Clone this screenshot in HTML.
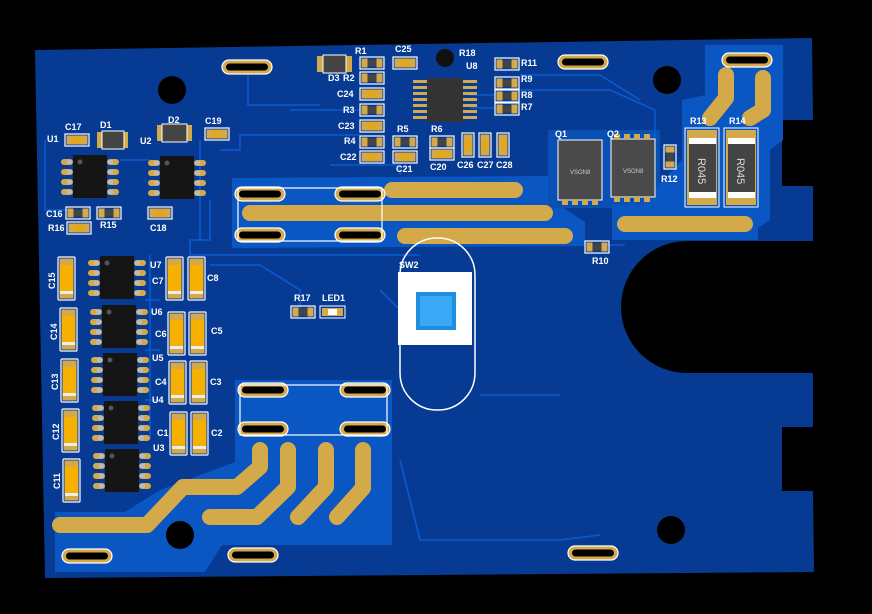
<!DOCTYPE html>
<html><head><meta charset="utf-8"><style>
html,body{margin:0;padding:0;background:#000;}
svg{display:block}
text{font-family:"Liberation Sans",sans-serif;font-weight:bold;font-size:9px;fill:#fff}
</style></head><body>
<svg width="872" height="614" viewBox="0 0 872 614" xmlns="http://www.w3.org/2000/svg">
<defs>
<g id="r"><rect x="0" y="0" width="24" height="12" fill="none" stroke="#fff" stroke-width="1.2"/><rect x="1.5" y="1.5" width="6" height="9" fill="#d4a94a"/><rect x="16.5" y="1.5" width="6" height="9" fill="#d4a94a"/><rect x="7.5" y="2.5" width="9" height="7" fill="#444"/></g>
<g id="c"><rect x="0" y="0" width="24" height="12" fill="none" stroke="#fff" stroke-width="1.2"/><rect x="1.5" y="1.5" width="21" height="9" fill="#d4a94a"/><rect x="7" y="2" width="10" height="8" fill="#e0a822"/></g>
<g id="bc"><rect x="0" y="0" width="17" height="43" rx="1" fill="none" stroke="#fff" stroke-width="1.2"/><rect x="1.5" y="1.5" width="14" height="40" fill="#d4a94a"/><rect x="2" y="8" width="13" height="27" fill="#f5b000"/><rect x="2" y="34" width="13" height="3" fill="#eee"/></g>
<g id="so"><rect x="0" y="0" width="34" height="43" fill="#151515"/><circle cx="7" cy="7" r="2.5" fill="#555"/>
<g fill="#d4a94a"><rect x="-12" y="4" width="12" height="6" rx="3"/><rect x="-12" y="14" width="12" height="6" rx="3"/><rect x="-12" y="24" width="12" height="6" rx="3"/><rect x="-12" y="34" width="12" height="6" rx="3"/><rect x="34" y="4" width="12" height="6" rx="3"/><rect x="34" y="14" width="12" height="6" rx="3"/><rect x="34" y="24" width="12" height="6" rx="3"/><rect x="34" y="34" width="12" height="6" rx="3"/></g>
<g fill="#bbb"><rect x="-6" y="5" width="5" height="4"/><rect x="-6" y="15" width="5" height="4"/><rect x="-6" y="25" width="5" height="4"/><rect x="-6" y="35" width="5" height="4"/><rect x="35" y="5" width="5" height="4"/><rect x="35" y="15" width="5" height="4"/><rect x="35" y="25" width="5" height="4"/><rect x="35" y="35" width="5" height="4"/></g></g>
<g id="slot"><rect x="0" y="0" width="50" height="14" rx="7" fill="#d4a94a" stroke="#fff" stroke-width="1.2"/><rect x="4" y="3.5" width="42" height="7" rx="3.5" fill="#000"/></g>
</defs>
<rect width="872" height="614" fill="#000"/>
<!-- board -->
<path d="M35,50 L812,38 L813,120 L782,120 L782,186 L813,186 L813,241 L687,241 A66,66 0 0 0 687,373 L813,373 L813,427 L782,427 L782,491 L813,491 L814,572 L45,578 Z" fill="#073a92"/>
<!-- pours -->
<path d="M232,178 L548,176 L548,198 L585,222 L585,246 L232,248 Z" fill="#0a56c2"/>
<path d="M548,130 L660,130 L660,208 L548,208 Z" fill="#0a4fb4"/>
<path d="M705,45 L783,45 L783,140 L770,150 L770,220 L758,228 L758,240 L612,240 L612,205 L640,205 L682,160 L682,100 L705,95 Z" fill="#0a56c2"/>
<path d="M55,512 L125,512 L160,490 L235,462 L235,380 L392,380 L392,545 L222,545 L205,572 L55,572 Z" fill="#0a56c2"/>
<!-- thin traces -->
<g stroke="#0a5ad0" stroke-width="1.6" fill="none">
<path d="M248,75 V105 H320"/><path d="M290,110 H360"/><path d="M220,150 H240 V135 H360"/><path d="M210,200 V240 H190 V255 H420"/>
<path d="M330,165 H400 V175"/><path d="M470,95 H495"/><path d="M470,108 H495"/><path d="M520,75 H600 L640,100"/><path d="M520,90 H610 L655,110"/>
<path d="M45,140 V210 H70"/><path d="M120,160 H150"/><path d="M200,140 V240"/><path d="M150,255 V440"/><path d="M210,265 H260 L300,290 V310"/>
<path d="M380,290 L400,310"/><path d="M600,245 H625"/><path d="M145,300 H160"/><path d="M145,350 H160"/><path d="M145,400 H160"/><path d="M480,395 L560,395"/>
<path d="M400,460 L420,540 L560,540 L600,535"/><path d="M655,110 V140"/></g>
<!-- gold traces -->
<g stroke="#d4a94a" stroke-linecap="round" stroke-linejoin="round" fill="none" stroke-width="16">
<path d="M392,190 H515"/><path d="M250,213 H545"/><path d="M405,236 H565"/>
<path d="M60,525 H147 L183,487 H237 L260,467 V450"/><path d="M210,517 H257 L288,487 V450"/><path d="M298,517 L326,487 V450"/><path d="M337,517 L363,488 V450"/>
<path d="M625,224 H745"/><path d="M726,75 V98 L710,118"/><path d="M763,78 V110 L750,118"/>
</g>
<!-- holes -->
<g fill="#000"><circle cx="172" cy="90" r="14"/><circle cx="667" cy="80" r="14"/><circle cx="180" cy="535" r="14"/><circle cx="671" cy="530" r="14"/></g>
<!-- slots -->
<use href="#slot" x="222" y="60"/><use href="#slot" x="558" y="55"/><use href="#slot" x="722" y="53"/><use href="#slot" x="62" y="549"/><use href="#slot" x="228" y="548"/><use href="#slot" x="568" y="546"/>
<!-- switch areas -->
<use href="#slot" x="235" y="187"/><use href="#slot" x="335" y="187"/><use href="#slot" x="235" y="228"/><use href="#slot" x="335" y="228"/>
<rect x="238" y="188" width="144" height="53" fill="none" stroke="#fff" stroke-width="1.2"/>
<use href="#slot" x="238" y="383"/><use href="#slot" x="340" y="383"/><use href="#slot" x="238" y="422"/><use href="#slot" x="340" y="422"/>
<rect x="240" y="385" width="147" height="50" fill="none" stroke="#fff" stroke-width="1.2"/>
<!-- SW2 -->
<rect x="400" y="238" width="75" height="172" rx="37" fill="none" stroke="#fff" stroke-width="1.5"/>
<rect x="398" y="272" width="74" height="73" fill="#fff"/>
<rect x="416" y="292" width="40" height="38" fill="#1e8fe0"/><rect x="420" y="296" width="32" height="30" fill="#3aa8f5"/>
<!-- top cluster -->
<rect x="317" y="56" width="35" height="16" fill="#d4a94a"/><rect x="323" y="55" width="23" height="18" fill="#444" stroke="#fff" stroke-width="1"/>
<use href="#r" x="360" y="57"/><use href="#r" x="360" y="72"/><use href="#c" x="360" y="88"/><use href="#r" x="360" y="104"/><use href="#c" x="360" y="120"/><use href="#r" x="360" y="136"/><use href="#c" x="360" y="151"/>
<use href="#c" x="393" y="57"/><circle cx="445" cy="58" r="9" fill="#111"/>
<rect x="427" y="78" width="36" height="44" fill="#333"/>
<g fill="#d4a94a"><rect x="413" y="80" width="14" height="3"/><rect x="413" y="86" width="14" height="3"/><rect x="413" y="92" width="14" height="3"/><rect x="413" y="98" width="14" height="3"/><rect x="413" y="104" width="14" height="3"/><rect x="413" y="110" width="14" height="3"/><rect x="413" y="116" width="14" height="3"/><rect x="463" y="80" width="14" height="3"/><rect x="463" y="86" width="14" height="3"/><rect x="463" y="92" width="14" height="3"/><rect x="463" y="98" width="14" height="3"/><rect x="463" y="104" width="14" height="3"/><rect x="463" y="110" width="14" height="3"/><rect x="463" y="116" width="14" height="3"/></g>
<use href="#r" x="495" y="58"/><use href="#r" x="495" y="77"/><use href="#r" x="495" y="90"/><use href="#r" x="495" y="103"/>
<use href="#r" x="393" y="136"/><use href="#c" x="393" y="151"/><use href="#r" x="430" y="136"/><use href="#c" x="430" y="148"/>
<use href="#c" transform="translate(474,133) rotate(90)"/><use href="#c" transform="translate(491,133) rotate(90)"/><use href="#c" transform="translate(509,133) rotate(90)"/>
<!-- left top -->
<use href="#c" x="65" y="134"/><rect x="97" y="132" width="31" height="16" fill="#d4a94a"/><rect x="102" y="131" width="22" height="18" fill="#444" stroke="#fff" stroke-width="1"/>
<rect x="157" y="125" width="35" height="16" fill="#d4a94a"/><rect x="162" y="124" width="25" height="18" fill="#444" stroke="#fff" stroke-width="1"/>
<use href="#c" x="205" y="128"/>
<use href="#so" x="73" y="155"/><use href="#so" x="160" y="156"/>
<use href="#r" x="66" y="207"/><use href="#r" x="97" y="207"/><use href="#c" x="67" y="222"/><use href="#c" x="148" y="207"/>
<!-- op-amp column -->
<use href="#bc" x="58" y="257"/><use href="#bc" x="60" y="308"/><use href="#bc" x="61" y="359"/><use href="#bc" x="62" y="409"/><use href="#bc" x="63" y="459"/>
<use href="#so" x="100" y="256"/><use href="#so" x="102" y="305"/><use href="#so" x="103" y="353"/><use href="#so" x="104" y="401"/><use href="#so" x="105" y="449"/>
<use href="#bc" x="166" y="257"/><use href="#bc" x="188" y="257"/><use href="#bc" x="168" y="312"/><use href="#bc" x="189" y="312"/><use href="#bc" x="169" y="361"/><use href="#bc" x="190" y="361"/><use href="#bc" x="170" y="412"/><use href="#bc" x="191" y="412"/>
<use href="#r" x="291" y="306"/><rect x="320" y="306" width="25" height="12" fill="none" stroke="#fff"/><rect x="322" y="308" width="21" height="8" fill="#d4a94a"/><rect x="328" y="309" width="9" height="6" fill="#fff"/>
<!-- right side -->
<rect x="558" y="140" width="44" height="60" fill="#4a4a4a" stroke="#fff" stroke-width="1"/><rect x="611" y="139" width="44" height="58" fill="#4a4a4a" stroke="#fff" stroke-width="1"/>
<g fill="#d4a94a"><rect x="562" y="200" width="6" height="5"/><rect x="572" y="200" width="6" height="5"/><rect x="582" y="200" width="6" height="5"/><rect x="592" y="200" width="6" height="5"/><rect x="614" y="197" width="6" height="5"/><rect x="624" y="197" width="6" height="5"/><rect x="634" y="197" width="6" height="5"/><rect x="644" y="197" width="6" height="5"/><rect x="614" y="134" width="6" height="5"/><rect x="624" y="134" width="6" height="5"/><rect x="634" y="134" width="6" height="5"/><rect x="644" y="134" width="6" height="5"/></g>
<text x="570" y="174" style="font-size:6px;font-weight:normal;fill:#ccc">VSON8</text><text x="623" y="173" style="font-size:6px;font-weight:normal;fill:#ccc">VSON8</text>
<use href="#r" transform="translate(676,145) rotate(90)"/>
<use href="#r" x="585" y="241"/>
<g><rect x="685" y="128" width="34" height="79" fill="none" stroke="#fff"/><rect x="687" y="130" width="30" height="75" fill="#d4a94a"/><rect x="689" y="138" width="27" height="60" fill="#444"/><rect x="689" y="138" width="27" height="6" fill="#fff"/><rect x="689" y="192" width="27" height="6" fill="#fff"/></g>
<g><rect x="724" y="128" width="34" height="79" fill="none" stroke="#fff"/><rect x="726" y="130" width="30" height="75" fill="#d4a94a"/><rect x="728" y="138" width="27" height="60" fill="#444"/><rect x="728" y="138" width="27" height="6" fill="#fff"/><rect x="728" y="192" width="27" height="6" fill="#fff"/></g>
<text transform="translate(698,158) rotate(90)" style="font-size:11px;font-weight:normal;fill:#ddd">R045</text>
<text transform="translate(737,158) rotate(90)" style="font-size:11px;font-weight:normal;fill:#ddd">R045</text>
<!-- labels -->
<text x="355" y="54">R1</text><text x="343" y="81">R2</text><text x="328" y="81">D3</text><text x="337" y="97">C24</text><text x="343" y="113">R3</text><text x="338" y="129">C23</text><text x="344" y="144">R4</text><text x="340" y="160">C22</text>
<text x="395" y="52">C25</text><text x="459" y="56">R18</text><text x="466" y="69">U8</text>
<text x="521" y="66">R11</text><text x="521" y="82">R9</text><text x="521" y="98">R8</text><text x="521" y="110">R7</text>
<text x="397" y="132">R5</text><text x="396" y="172">C21</text><text x="431" y="132">R6</text><text x="430" y="170">C20</text><text x="457" y="168">C26</text><text x="477" y="168">C27</text><text x="496" y="168">C28</text>
<text x="47" y="142">U1</text><text x="65" y="130">C17</text><text x="100" y="128">D1</text><text x="140" y="144">U2</text><text x="168" y="123">D2</text><text x="205" y="124">C19</text>
<text x="46" y="217">C16</text><text x="48" y="231">R16</text><text x="100" y="228">R15</text><text x="150" y="231">C18</text>
<text x="150" y="268">U7</text><text x="152" y="284">C7</text><text x="207" y="281">C8</text><text x="151" y="315">U6</text><text x="155" y="337">C6</text><text x="211" y="334">C5</text>
<text x="152" y="361">U5</text><text x="155" y="385">C4</text><text x="210" y="385">C3</text><text x="152" y="403">U4</text><text x="157" y="436">C1</text><text x="211" y="436">C2</text><text x="153" y="451">U3</text>
<text transform="translate(55,289) rotate(-90)">C15</text><text transform="translate(57,340) rotate(-90)">C14</text><text transform="translate(58,390) rotate(-90)">C13</text><text transform="translate(59,440) rotate(-90)">C12</text><text transform="translate(60,489) rotate(-90)">C11</text>
<text x="294" y="301">R17</text><text x="322" y="301">LED1</text><text x="399" y="268">SW2</text>
<text x="555" y="137">Q1</text><text x="607" y="137">Q2</text><text x="661" y="182">R12</text><text x="690" y="124">R13</text><text x="729" y="124">R14</text><text x="592" y="264">R10</text>
</svg>
</body></html>
